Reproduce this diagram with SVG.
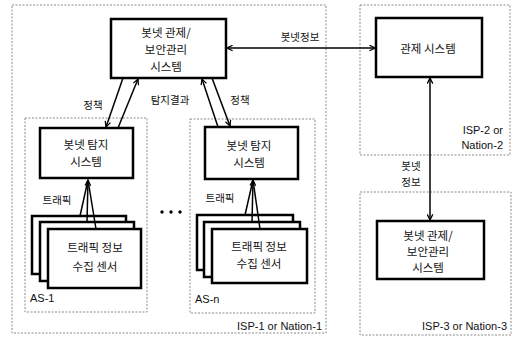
<svg xmlns="http://www.w3.org/2000/svg" width="515" height="339" viewBox="0 0 515 339">
  <style>
    .zone { fill: none; stroke: #8a8a8a; stroke-width: 1; stroke-dasharray: 2 1.5; }
    .box { fill: #fff; stroke: #000; stroke-width: 2.5; }
    .ko { font-family: "Noto Sans CJK KR", "Noto Sans", sans-serif; font-size: 11.5px; fill: #111; text-anchor: middle; }
    .lbl { font-family: "Noto Sans CJK KR", "Noto Sans", sans-serif; font-size: 10.5px; fill: #111; text-anchor: middle; }
    .lat { font-family: "Liberation Sans", Arial, sans-serif; font-size: 11px; fill: #111; }
    .arr { fill: none; stroke: #000; stroke-width: 1.5; }
  </style>
  <defs>
    <marker id="head" viewBox="0 0 10 10" refX="9" refY="5" markerWidth="7" markerHeight="7" markerUnits="userSpaceOnUse" orient="auto-start-reverse">
      <path d="M1,1 L9,5 L1,9" fill="none" stroke="#000" stroke-width="1.8"/>
    </marker>
  </defs>
  <rect width="515" height="339" fill="#fff"/>

  <!-- administrative zones -->
  <g id="zones">
    <rect class="zone" x="12" y="5" width="314" height="328"/>
    <rect class="zone" x="25" y="118" width="122" height="194"/>
    <rect class="zone" x="190" y="119" width="125" height="194"/>
    <rect class="zone" x="360" y="5" width="150" height="150"/>
    <rect class="zone" x="360" y="192" width="151" height="143"/>
    <text class="lat" x="30" y="302">AS-1</text>
    <text class="lat" x="195" y="303">AS-n</text>
    <text class="lat" x="322" y="330" text-anchor="end">ISP-1 or Nation-1</text>
    <text class="lat" x="503" y="134" text-anchor="end">ISP-2 or</text>
    <text class="lat" x="503" y="149" text-anchor="end">Nation-2</text>
    <text class="lat" x="507" y="330" text-anchor="end">ISP-3 or Nation-3</text>
  </g>

  <g id="control-1">
    <rect class="box" x="111" y="19" width="115" height="59"/>
    <text class="ko" x="166" y="37">봇넷 관제/</text>
    <text class="ko" x="166" y="54">보안관리</text>
    <text class="ko" x="166" y="71">시스템</text>
  </g>

  <g id="control-2">
    <rect class="box" x="376" y="18" width="106" height="59"/>
    <text class="ko" x="428" y="53">관제 시스템</text>
  </g>

  <g id="control-3">
    <rect class="box" x="377" y="221" width="107" height="58"/>
    <text class="ko" x="428" y="240">봇넷 관제/</text>
    <text class="ko" x="428" y="256">보안관리</text>
    <text class="ko" x="428" y="272">시스템</text>
  </g>

  <g id="detect-1">
    <rect class="box" x="40" y="128" width="93" height="50"/>
    <text class="ko" x="86" y="149">봇넷 탐지</text>
    <text class="ko" x="86" y="166">시스템</text>
  </g>

  <g id="detect-n">
    <rect class="box" x="205" y="127" width="93" height="52"/>
    <text class="ko" x="249" y="150">봇넷 탐지</text>
    <text class="ko" x="249" y="167">시스템</text>
  </g>

  <g id="sensors-1">
    <rect class="box" x="32" y="216" width="94" height="58"/>
    <rect class="box" x="40" y="222" width="94" height="59"/>
    <rect class="box" x="48" y="229" width="93" height="59"/>
    <text class="ko" x="95" y="252">트래픽 정보</text>
    <text class="ko" x="95" y="271">수집 센서</text>
  </g>

  <g id="sensors-n">
    <rect class="box" x="197" y="215" width="96" height="55"/>
    <rect class="box" x="204" y="222" width="96" height="55"/>
    <rect class="box" x="212" y="229" width="95" height="54"/>
    <text class="ko" x="259" y="251">트래픽 정보</text>
    <text class="ko" x="259" y="268">수집 센서</text>
  </g>

  <g id="ellipsis" fill="#000">
    <circle cx="162" cy="212" r="1.7"/>
    <circle cx="171" cy="212" r="1.7"/>
    <circle cx="180" cy="212" r="1.7"/>
  </g>

  <g id="connectors">
    <!-- policy down / detection result up -->
    <line class="arr" x1="123" y1="78" x2="106" y2="127" marker-end="url(#head)"/>
    <line class="arr" x1="118" y1="128" x2="138" y2="79" marker-end="url(#head)"/>
    <line class="arr" x1="218" y1="127" x2="202" y2="79" marker-end="url(#head)"/>
    <line class="arr" x1="212" y1="78" x2="230" y2="126" marker-end="url(#head)"/>
    <text class="lbl" x="93" y="109">정책</text>
    <text class="lbl" x="170" y="104">탐지결과</text>
    <text class="lbl" x="240" y="104">정책</text>

    <!-- botnet info exchange -->
    <line class="arr" x1="227" y1="48" x2="375" y2="48" marker-start="url(#head)" marker-end="url(#head)"/>
    <text class="lbl" x="300" y="41">봇넷정보</text>
    <line class="arr" x1="430" y1="78" x2="430" y2="220" marker-start="url(#head)" marker-end="url(#head)"/>
    <text class="lbl" x="411" y="170">봇넷</text>
    <text class="lbl" x="411" y="186">정보</text>

    <!-- traffic feeds -->
    <line class="arr" x1="80" y1="216" x2="88" y2="180"/>
    <line class="arr" x1="96" y1="229" x2="88" y2="180"/>
    <line class="arr" x1="87" y1="222" x2="88" y2="180" marker-end="url(#head)"/>
    <text class="lbl" x="57" y="204">트래픽</text>
    <line class="arr" x1="245" y1="215" x2="253" y2="180"/>
    <line class="arr" x1="260" y1="229" x2="253" y2="180"/>
    <line class="arr" x1="252" y1="222" x2="253" y2="180" marker-end="url(#head)"/>
    <text class="lbl" x="220" y="202">트래픽</text>
  </g>
</svg>
